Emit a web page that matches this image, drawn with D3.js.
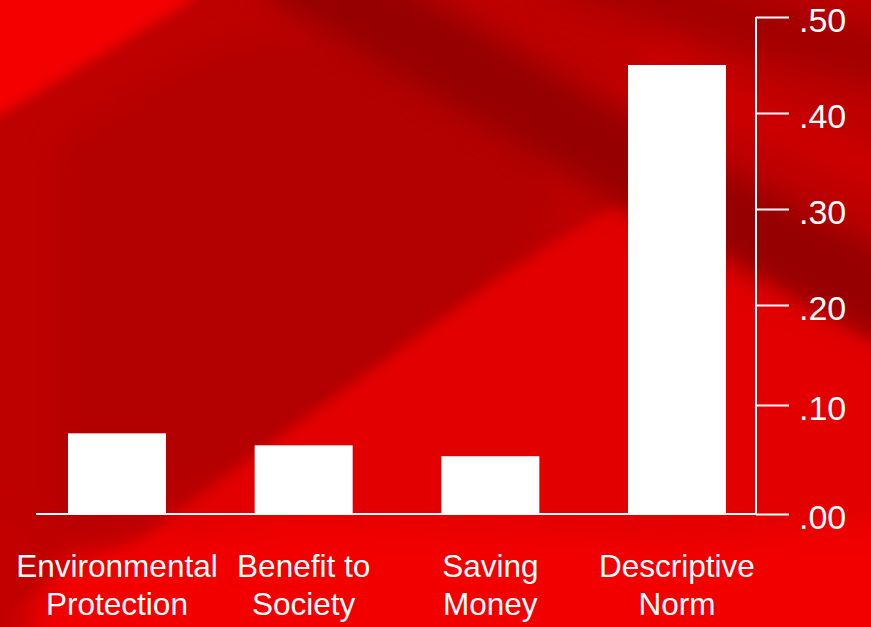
<!DOCTYPE html>
<html>
<head>
<meta charset="utf-8">
<script src="https://cdn.jsdelivr.net/npm/d3@7"></script>
<style>
  html, body { margin: 0; padding: 0; background: #c00000; overflow: hidden; }
  svg { display: block; }
  text { font-family: "Liberation Sans", Arial, sans-serif; fill: #ffffff; }
</style>
</head>
<body>
<svg id="chart" width="871" height="627"></svg>
<script>
// ---- data ----
const categories = [["Environmental", "Protection"], ["Benefit to", "Society"], ["Saving", "Money"], ["Descriptive", "Norm"]];
const values = [0.074, 0.063, 0.053, 0.450];
const tickValues = [0, 0.1, 0.2, 0.3, 0.4, 0.5];
const tickLabels = [".00", ".10", ".20", ".30", ".40", ".50"];

const W = 871, H = 627;
const svg = d3.select("#chart");
const defs = svg.append("defs");

// ---- background (decorative) ----
const blur = defs.append("filter").attr("id", "blur").attr("x", "-50%").attr("y", "-50%").attr("width", "200%").attr("height", "200%");
blur.append("feGaussianBlur").attr("stdDeviation", 14);
const blur2 = defs.append("filter").attr("id", "blur2").attr("x", "-50%").attr("y", "-50%").attr("width", "200%").attr("height", "200%");
blur2.append("feGaussianBlur").attr("stdDeviation", 6);

const bg = svg.append("g");
bg.append("rect").attr("width", W).attr("height", H).attr("fill", "#bd0000");
const line = d3.line().curve(d3.curveBasis);
// upper middle region
bg.append("path").attr("filter", "url(#blur)").attr("fill", "#b30000")
  .attr("d", line([[60,150],[180,60],[300,20],[500,80],[600,200],[400,380],[180,500],[60,520]]) + "Z");
// bright lower-right region
bg.append("path").attr("filter", "url(#blur2)").attr("fill", "#e20000")
  .attr("d", "M-40,640 L0,610 L140,540 L330,400 L500,277 L615,205 L700,220 L800,300 L880,345 L880,640 Z");
// brighter bottom band
bg.append("path").attr("filter", "url(#blur)").attr("fill", "#f20000")
  .attr("d", "M20,660 L60,560 L300,520 L700,540 L900,520 L900,660 Z");
// bottom-left dark corner
bg.append("path").attr("filter", "url(#blur)").attr("fill", "#c20000")
  .attr("d", "M-40,500 L40,530 L20,660 L-40,660 Z");
// top-left bright triangle
bg.append("path").attr("filter", "url(#blur2)").attr("fill", "#f40000")
  .attr("d", "M-30,-30 L220,-30 L185,5 L0,115 L-30,130 Z");
// dark diagonal band
bg.append("path").attr("filter", "url(#blur)").attr("fill", "none")
  .attr("stroke", "#960000").attr("stroke-width", 80).attr("stroke-linecap", "round")
  .attr("d", line([[300,-30],[420,40],[540,110],[640,170],[760,235],[900,300]]));
bg.append("path").attr("filter", "url(#blur)").attr("fill", "none")
  .attr("stroke", "#a40000").attr("stroke-width", 60)
  .attr("d", line([[560,-40],[680,0],[800,40],[900,60]]));
// lighter streak upper right
bg.append("path").attr("filter", "url(#blur)").attr("fill", "none")
  .attr("stroke", "#cc0000").attr("stroke-width", 40)
  .attr("d", line([[640,60],[760,120],[900,180]]));

// ---- scales ----
const x = d3.scaleBand()
  .domain(d3.range(categories.length))
  .range([68, 726])
  .paddingInner(0.475)
  .paddingOuter(0);

const y = d3.scaleLinear()
  .domain(tickValues)
  .range([514, 405, 305, 209, 113, 17]);

const axisX = 756;

// ---- bars ----
svg.append("g").selectAll("rect")
  .data(values)
  .join("rect")
  .attr("x", (d, i) => x(i))
  .attr("y", d => y(d))
  .attr("width", x.bandwidth())
  .attr("height", d => y(0) - y(d))
  .attr("fill", "#ffffff");

// baseline
svg.append("line")
  .attr("x1", 36).attr("x2", axisX)
  .attr("y1", y(0)).attr("y2", y(0))
  .attr("stroke", "#ffffff").attr("stroke-width", 2);

// ---- right axis ----
const axis = d3.axisRight(y)
  .tickValues(tickValues)
  .tickFormat((d, i) => tickLabels[i])
  .tickSize(33)
  .tickPadding(10);

const gAxis = svg.append("g")
  .attr("transform", `translate(${axisX},0)`)
  .call(axis);
gAxis.select(".domain").attr("stroke", "#ffffff").attr("stroke-width", 2)
  .attr("d", `M0,${y(0.5)}V${y(0)}`);
gAxis.selectAll(".tick line").attr("stroke", "#ffffff").attr("stroke-width", 2);
gAxis.selectAll(".tick text")
  .attr("fill", "#ffffff")
  .attr("font-size", 34)
  .attr("font-family", "'Liberation Sans', Arial, sans-serif")
  .attr("dy", "0.42em");

// ---- category labels ----
const labels = svg.append("g").selectAll("text")
  .data(categories)
  .join("text")
  .attr("text-anchor", "middle")
  .attr("font-size", 31.5)
  .attr("x", (d, i) => x(i) + x.bandwidth() / 2)
  .attr("y", 577);
labels.selectAll("tspan")
  .data(d => d)
  .join("tspan")
  .attr("x", function() { return d3.select(this.parentNode).attr("x"); })
  .attr("dy", (d, i) => i === 0 ? 0 : 38)
  .text(d => d);
</script>
</body>
</html>
